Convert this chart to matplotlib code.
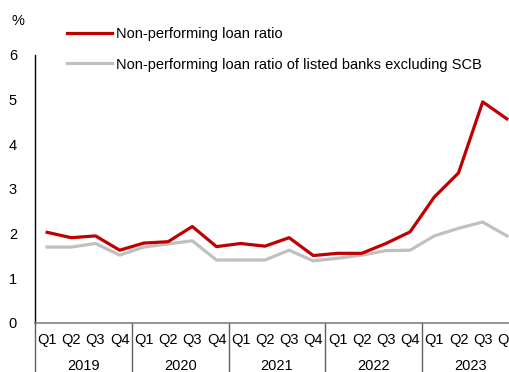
import numpy as np
import matplotlib
matplotlib.use('Agg')
import matplotlib.pyplot as plt

plt.rcParams['font.family'] = ['Liberation Sans', 'DejaVu Sans']

years = ['2019', '2020', '2021', '2022', '2023']
quarters = ['Q1', 'Q2', 'Q3', 'Q4']
npl = [2.03, 1.91, 1.95, 1.63,
       1.79, 1.82, 2.16, 1.71,
       1.78, 1.72, 1.91, 1.51,
       1.56, 1.56, 1.78, 2.04,
       2.82, 3.36, 4.95, 4.57]
npl_ex_scb = [1.70, 1.70, 1.78, 1.52,
              1.70, 1.77, 1.84, 1.41,
              1.41, 1.41, 1.63, 1.39,
              1.45, 1.52, 1.62, 1.63,
              1.95, 2.12, 2.26, 1.95]
yticks = [0, 1, 2, 3, 4, 5, 6]

RED = '#c00000'
GREY = '#c0c0c0'
FS = 10.5

fig = plt.figure(figsize=(5.09, 3.72), dpi=100)
# axis runs past the right edge of the figure, as in the original
ax = fig.add_axes([35/509, 49/372, 484/509, 268/372])

x = np.arange(len(npl))
ax.plot(x, npl_ex_scb, color=GREY, lw=2.3, label='Non-performing loan ratio of listed banks excluding SCB')
ax.plot(x, npl, color=RED, lw=2.3, label='Non-performing loan ratio')

ax.set_xlim(-0.5, len(npl) - 0.5)
ax.set_ylim(0, 6)
ax.set_yticks(yticks)
ax.tick_params(axis='y', length=0, pad=13, labelsize=FS)
ax.set_xticks([])

for s in ['top', 'right']:
    ax.spines[s].set_visible(False)
ax.spines['left'].set_color('black')
ax.spines['left'].set_linewidth(1)
ax.spines['bottom'].set_color('#808080')
ax.spines['bottom'].set_linewidth(1.2)

trans = ax.get_xaxis_transform()
for i in range(len(npl)):
    ax.text(x[i], -0.065, quarters[i % 4], transform=trans, ha='center', va='center',
            fontsize=FS, clip_on=False)
for k, yr in enumerate(years):
    ax.text(4 * k + 1.5, -0.16, yr, transform=trans, ha='center', va='center',
            fontsize=FS, clip_on=False)
for k in range(len(years) + 1):
    ax.plot([4 * k - 0.5, 4 * k - 0.5], [0, -0.2], transform=trans, color='#606060',
            lw=1, clip_on=False)

fig.text(18/509, 1 - 21/372, '%', ha='center', va='center', fontsize=FS)

h, l = ax.get_legend_handles_labels()
leg = fig.legend(h[::-1], l[::-1], loc='upper left', bbox_to_anchor=(61/509, 1 - 21/372),
                 frameon=False, fontsize=FS, handlelength=3.1, handletextpad=0.3,
                 labelspacing=1.15, borderaxespad=0)

fig.savefig('out.png', dpi=100)
